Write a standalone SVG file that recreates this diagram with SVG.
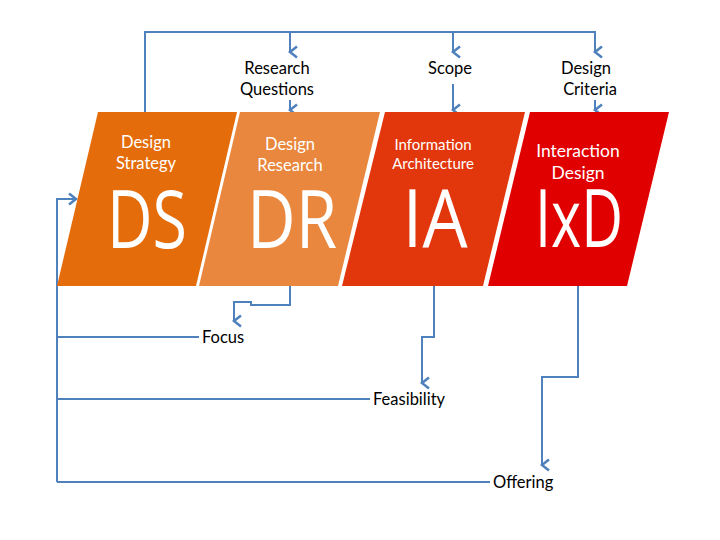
<svg xmlns="http://www.w3.org/2000/svg" width="720" height="540" viewBox="0 0 720 540">
<style>
.sm{font-family:Lato,"Open Sans",sans-serif;font-size:16.5px;fill:#fff;text-anchor:middle}
.big{font-family:"Open Sans","DejaVu Sans",sans-serif;font-size:80px;fill:#fff;text-anchor:middle}
.lb{font-family:Lato,"Open Sans",sans-serif;font-size:16.5px;fill:#000}
.c{fill:none;stroke:#4F81BD;stroke-width:2}
</style>
<defs>
<marker id="a" markerUnits="userSpaceOnUse" markerWidth="14" markerHeight="14" refX="7" refY="11" orient="auto" viewBox="0 0 14 14">
<path d="M1.5,4 L7,11 L12.5,4" fill="none" stroke="#4F81BD" stroke-width="2.5"/>
</marker>
<marker id="r" markerUnits="userSpaceOnUse" markerWidth="14" markerHeight="14" refX="11" refY="7" viewBox="0 0 14 14">
<path d="M4,1.5 L11,7 L4,12.5" fill="none" stroke="#4F81BD" stroke-width="2.5"/>
</marker>
</defs>
<rect width="720" height="540" fill="#fff"/>
<g id="connectors">
<path class="c" d="M145,112 V32 H595 V52" marker-end="url(#a)"/>
<path class="c" d="M290,32 V52" marker-end="url(#a)"/>
<path class="c" d="M453,32 V52" marker-end="url(#a)"/>
<path class="c" d="M290,100 V110" marker-end="url(#a)"/>
<path class="c" d="M453,84 V110" marker-end="url(#a)"/>
<path class="c" d="M595,100 V110" marker-end="url(#a)"/>
<path class="c" d="M290,286 V305 H251 V302 H234 V321" marker-end="url(#a)"/>
<path class="c" d="M434,286 V337 H422 V383" marker-end="url(#a)"/>
<path class="c" d="M578,286 V377 H542 V465" marker-end="url(#a)"/>
<path class="c" d="M57,482 V199 H76" marker-end="url(#r)"/>
<path class="c" d="M57,337 H199"/>
<path class="c" d="M57,399 H370"/>
<path class="c" d="M57,482 H490"/>
</g>
<g id="DS">
<polygon points="98,112 237,112 196,286 57,286" fill="#E46C0A"/>
<text class="sm" x="146" y="148">Design</text>
<text class="sm" x="146" y="169">Strategy</text>
<text class="big" x="147" y="248" textLength="80" lengthAdjust="spacingAndGlyphs">DS</text>
</g>
<g id="DR">
<polygon points="240,112 380,112 338,286 199,286" fill="#E8873D"/>
<text class="sm" x="290" y="150">Design</text>
<text class="sm" x="290" y="171">Research</text>
<text class="big" x="292" y="248" textLength="90" lengthAdjust="spacingAndGlyphs">DR</text>
</g>
<g id="IA">
<polygon points="385,112 525,112 483,286 342,286" fill="#E2360C"/>
<text class="sm" x="433" y="150" style="font-size:15px">Information</text>
<text class="sm" x="433" y="169" style="font-size:15px">Architecture</text>
<text class="big" x="435" y="247" textLength="65" lengthAdjust="spacingAndGlyphs">IA</text>
</g>
<g id="IxD">
<polygon points="530,112 669,112 627,286 488,286" fill="#E10000"/>
<text class="sm" x="578" y="157" style="font-size:17.5px">Interaction</text>
<text class="sm" x="578" y="179" style="font-size:17.5px">Design</text>
<text class="big" x="579" y="247" textLength="88" lengthAdjust="spacingAndGlyphs">IxD</text>
</g>
<g id="labels">
<text class="lb" x="277" y="74" text-anchor="middle">Research</text>
<text class="lb" x="277" y="95" text-anchor="middle">Questions</text>
<text class="lb" x="450" y="74" text-anchor="middle">Scope</text>
<text class="lb" x="586" y="74" text-anchor="middle">Design</text>
<text class="lb" x="590" y="95" text-anchor="middle">Criteria</text>
<text class="lb" x="202" y="343">Focus</text>
<text class="lb" x="373" y="405">Feasibility</text>
<text class="lb" x="493" y="488">Offering</text>
</g>
</svg>
